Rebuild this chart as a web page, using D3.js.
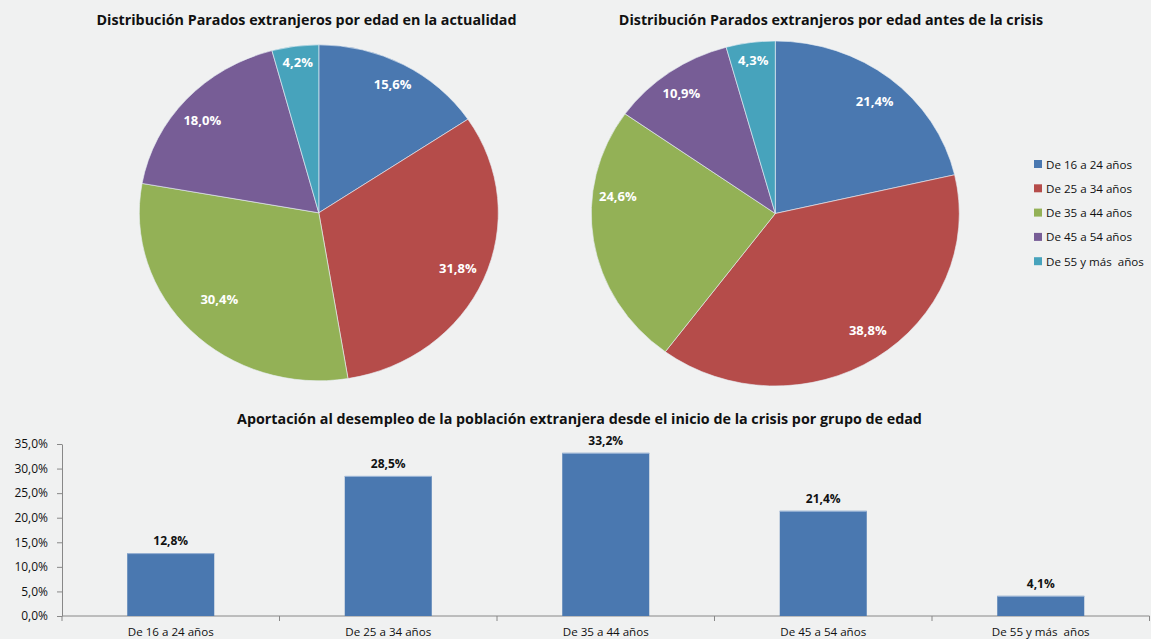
<!DOCTYPE html>
<html>
<head>
<meta charset="utf-8">
<script src="https://cdn.jsdelivr.net/npm/d3@7"></script>
<style>
  body { margin: 0; background: #f0f1f1; }
  svg { display: block; font-family: "Open Sans", Lato, sans-serif; }
</style>
</head>
<body>
<svg id="chart" width="1151" height="639"></svg>
<script>
var categories = ["De 16 a 24 años", "De 25 a 34 años", "De 35 a 44 años", "De 45 a 54 años", "De 55 y más  años"];
var actualidad = [15.6, 31.8, 30.4, 18.0, 4.2];
var antesCrisis = [21.4, 38.8, 24.6, 10.9, 4.3];
var aportacion = [12.8, 28.5, 33.2, 21.4, 4.1];
var yTicks = [0, 5, 10, 15, 20, 25, 30, 35];
var colors = ["#4a78b0", "#b54c4a", "#93b156", "#775d96", "#47a3bc"];

// Excel's "best fit" label placement, as small nudges from the mid-angle point
var nudgeActual = [[2, -2], [-1, -1], [9, -14], [-4, 4], [-1, -9]];
var nudgeAntes = [[2, 3], [7, -6], [-3, -40], [-4, 0], [-1, -8]];

var svg = d3.select("#chart");
var fmt = function (v) { return v.toFixed(1).replace(".", ",") + "%"; };

var color = d3.scaleOrdinal().domain(categories).range(colors);

// elliptical pie: draw with ry, stretch horizontally
var drawPie = function (values, nudge, cx, cy, rx, ry, title, titleX) {
    var data = categories.map(function (c, i) { return { cat: c, v: values[i], n: nudge[i] }; });
    var arcs = d3.pie().sort(null).value(function (d) { return d.v; })(data);
    var arc = d3.arc().innerRadius(0).outerRadius(ry);

    var g = svg.append("g").attr("transform", "translate(" + cx + "," + cy + ")");
    g.append("g")
        .attr("transform", "scale(" + (rx / ry) + ",1)")
        .selectAll("path")
        .data(arcs)
        .enter()
        .append("path")
        .attr("d", arc)
        .attr("fill", function (d) { return color(d.data.cat); })
        .attr("stroke", "#e8eef5")
        .attr("stroke-width", 0.6);

    g.selectAll("text")
        .data(arcs)
        .enter()
        .append("text")
        .attr("x", function (d) { return Math.sin((d.startAngle + d.endAngle) / 2) * rx * 0.85 + d.data.n[0]; })
        .attr("y", function (d) { return -Math.cos((d.startAngle + d.endAngle) / 2) * ry * 0.85 + 4.5 + d.data.n[1]; })
        .attr("text-anchor", "middle")
        .attr("fill", "#fff")
        .attr("font-weight", "bold")
        .attr("font-size", "13px")
        .text(function (d) { return fmt(d.data.v); });

    svg.append("text")
        .attr("x", titleX)
        .attr("y", 25)
        .attr("text-anchor", "middle")
        .attr("font-weight", "bold")
        .attr("font-size", "14.3px")
        .attr("fill", "#111")
        .text(title);
};

drawPie(actualidad, nudgeActual, 318.8, 212.8, 179.5, 168, "Distribución Parados extranjeros por edad en la actualidad", 306.5);
drawPie(antesCrisis, nudgeAntes, 775.3, 213.5, 184, 172.5, "Distribución Parados extranjeros por edad antes de la crisis", 831);

// legend
var legend = svg.append("g").selectAll("g")
    .data(categories)
    .enter()
    .append("g")
    .attr("transform", function (d, i) { return "translate(1034," + (160 + i * 24.3) + ")"; });
legend.append("rect")
    .attr("width", 8).attr("height", 8)
    .attr("fill", function (d) { return color(d); });
legend.append("text")
    .attr("x", 12).attr("y", 8.5)
    .attr("font-size", "11.6px")
    .attr("fill", "#111")
    .attr("xml:space", "preserve")
    .style("white-space", "pre")
    .text(function (d) { return d; });

// bar chart
var plotLeft = 62, plotRight = 1149.5, plotTop = 444, plotBottom = 616;
var x = d3.scaleBand().domain(categories).range([plotLeft, plotRight]).paddingInner(0.6).paddingOuter(0.3);
var y = d3.scaleLinear().domain([0, 35]).range([plotBottom, plotTop]);

svg.append("text")
    .attr("x", 579.5).attr("y", 424)
    .attr("text-anchor", "middle")
    .attr("font-weight", "bold")
    .attr("font-size", "14.3px")
    .attr("fill", "#111")
    .text("Aportación al desempleo de la población extranjera desde el inicio de la crisis por grupo de edad");

var yAxis = svg.append("g")
    .attr("transform", "translate(" + plotLeft + ",0)")
    .call(d3.axisLeft(y).tickValues(yTicks).tickSize(5).tickSizeOuter(0).tickFormat(fmt));
yAxis.select(".domain").attr("stroke", "#888");
yAxis.selectAll(".tick line").attr("stroke", "#888");
yAxis.selectAll(".tick text").attr("font-size", "12px").attr("fill", "#111").attr("font-family", "'Open Sans', sans-serif").attr("x", -14);

var band = (plotRight - plotLeft) / categories.length;
var xAxis = svg.append("g").attr("transform", "translate(0," + plotBottom + ")");
xAxis.append("line").attr("x1", plotLeft).attr("x2", plotRight).attr("stroke", "#888");
xAxis.selectAll(".sep")
    .data(d3.range(categories.length + 1))
    .enter()
    .append("line")
    .attr("x1", function (i) { return plotLeft + i * band; })
    .attr("x2", function (i) { return plotLeft + i * band; })
    .attr("y1", 0).attr("y2", 5)
    .attr("stroke", "#888");
xAxis.selectAll(".lab")
    .data(categories)
    .enter()
    .append("text")
    .attr("x", function (d) { return x(d) + x.bandwidth() / 2; })
    .attr("y", 20)
    .attr("text-anchor", "middle")
    .attr("font-size", "11.6px")
    .attr("fill", "#111")
    .attr("xml:space", "preserve")
    .style("white-space", "pre")
    .text(function (d) { return d; });

var bars = svg.append("g").selectAll("g")
    .data(aportacion)
    .enter()
    .append("g");
bars.append("rect")
    .attr("x", function (d, i) { return x(categories[i]); })
    .attr("y", function (d) { return y(d); })
    .attr("width", x.bandwidth())
    .attr("height", function (d) { return plotBottom - y(d); })
    .attr("fill", "#4a78b0");
bars.append("line")
    .attr("x1", function (d, i) { return x(categories[i]); })
    .attr("x2", function (d, i) { return x(categories[i]) + x.bandwidth(); })
    .attr("y1", function (d) { return y(d) + 0.5; })
    .attr("y2", function (d) { return y(d) + 0.5; })
    .attr("stroke", "#9db6d6");
bars.append("text")
    .attr("x", function (d, i) { return x(categories[i]) + x.bandwidth() / 2; })
    .attr("y", function (d) { return y(d) - 8; })
    .attr("text-anchor", "middle")
    .attr("font-weight", "bold")
    .attr("font-size", "12px")
    .attr("fill", "#111")
    .text(fmt);
</script>
</body>
</html>
